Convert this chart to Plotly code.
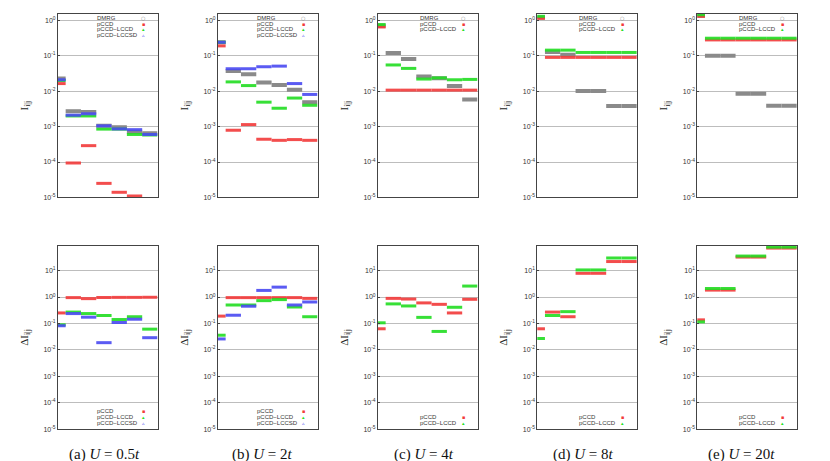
import plotly.graph_objects as go

# orbital-pair index (x) - each value is drawn as a flat step of width 1
pair_idx = [0, 1, 2, 3, 4, 5, 6]

top_tickvals = [1e-5, 1e-4, 1e-3, 1e-2, 1e-1, 1]
top_ticktext = ["10<sup>-5</sup>", "10<sup>-4</sup>", "10<sup>-3</sup>",
                "10<sup>-2</sup>", "10<sup>-1</sup>", "10<sup>0</sup>"]
bot_tickvals = [1e-5, 1e-4, 1e-3, 1e-2, 1e-1, 1, 10]
bot_ticktext = top_ticktext + ["10<sup>1</sup>"]

captions = ["(a) <i>U</i> = 0.5<i>t</i>", "(b) <i>U</i> = 2<i>t</i>",
            "(c) <i>U</i> = 4<i>t</i>", "(d) <i>U</i> = 8<i>t</i>",
            "(e) <i>U</i> = 20<i>t</i>"]

# I_i|j  (top row)
i_dmrg_a = [0.0227, 0.0027, 0.0026, 0.00105, 0.00096, 0.00072, 0.00065]
i_pccd_a = [0.0164, 9.4e-5, 2.9e-4, 2.5e-5, 1.4e-5, 1.1e-5, 7e-6]
i_lccd_a = [0.020, 0.0020, 0.0020, 0.00085, 0.00085, 0.00060, 0.00058]
i_lccsd_a = [0.021, 0.0021, 0.0023, 0.00105, 0.00086, 0.00082, 0.00060]

i_dmrg_b = [0.24, 0.037, 0.030, 0.0175, 0.015, 0.011, 0.0049]
i_pccd_b = [0.19, 0.00079, 0.00114, 0.00044, 0.00041, 0.00043, 0.00041]
i_lccd_b = [0.24, 0.0183, 0.0144, 0.0049, 0.0033, 0.0064, 0.0040]
i_lccsd_b = [0.24, 0.043, 0.043, 0.049, 0.051, 0.0164, 0.0081]

i_dmrg_c = [0.70, 0.119, 0.081, 0.026, 0.023, 0.014, 0.0058]
i_pccd_c = [0.65, 0.0107, 0.0107, 0.0107, 0.0107, 0.0107, 0.0107]
i_lccd_c = [0.76, 0.055, 0.044, 0.022, 0.0237, 0.021, 0.0215]

i_dmrg_d = [1.2, 0.127, 0.107, 0.0102, 0.0102, 0.0038, 0.0038]
i_pccd_d = [1.14, 0.090, 0.090, 0.090, 0.090, 0.090, 0.090]
i_lccd_d = [1.3, 0.144, 0.144, 0.124, 0.124, 0.124, 0.124]

i_dmrg_e = [1.35, 0.10, 0.10, 0.0084, 0.0084, 0.0039, 0.0039]
i_pccd_e = [1.3, 0.28, 0.28, 0.28, 0.28, 0.28, 0.28]
i_lccd_e = [1.44, 0.313, 0.313, 0.313, 0.313, 0.313, 0.313]

# Delta I_i|j  (bottom row)
d_pccd_a = [0.25, 0.95, 0.87, 0.96, 0.97, 0.97, 0.98]
d_lccd_a = [0.089, 0.27, 0.237, 0.20, 0.141, 0.18, 0.061]
d_lccsd_a = [0.082, 0.237, 0.173, 0.0188, 0.109, 0.145, 0.029]

d_pccd_b = [0.19, 0.95, 0.95, 0.95, 0.95, 0.95, 0.89]
d_lccd_b = [0.036, 0.50, 0.50, 0.73, 0.80, 0.42, 0.18]
d_lccsd_b = [0.026, 0.205, 0.45, 1.78, 2.37, 0.50, 0.65]

d_pccd_c = [0.063, 0.89, 0.84, 0.60, 0.53, 0.25, 0.82]
d_lccd_c = [0.106, 0.55, 0.46, 0.17, 0.05, 0.41, 2.6]

d_pccd_d = [0.063, 0.27, 0.18, 7.9, 7.9, 22, 22]
d_lccd_d = [0.027, 0.20, 0.28, 10.6, 10.6, 30, 30]

d_pccd_e = [0.137, 1.83, 1.83, 32.5, 32.5, 71, 71]
d_lccd_e = [0.115, 2.1, 2.1, 35.5, 35.5, 77, 77]

COL = {"DMRG": "#8a8a8a", "pCCD": "#f23a3a", "pCCD\u2212LCCD": "#22dd22",
       "pCCD\u2212LCCSD": "#4a4af2"}
SYM = {"DMRG": "\u25cb", "pCCD": "\u25aa", "pCCD\u2212LCCD": "\u25b4",
       "pCCD\u2212LCCSD": "\u25b5"}
WID = {"DMRG": 4, "pCCD": 3, "pCCD\u2212LCCD": 3, "pCCD\u2212LCCSD": 3}

top_series = [
    [("DMRG", i_dmrg_a), ("pCCD", i_pccd_a), ("pCCD\u2212LCCD", i_lccd_a), ("pCCD\u2212LCCSD", i_lccsd_a)],
    [("DMRG", i_dmrg_b), ("pCCD", i_pccd_b), ("pCCD\u2212LCCD", i_lccd_b), ("pCCD\u2212LCCSD", i_lccsd_b)],
    [("DMRG", i_dmrg_c), ("pCCD", i_pccd_c), ("pCCD\u2212LCCD", i_lccd_c)],
    [("DMRG", i_dmrg_d), ("pCCD", i_pccd_d), ("pCCD\u2212LCCD", i_lccd_d)],
    [("DMRG", i_dmrg_e), ("pCCD", i_pccd_e), ("pCCD\u2212LCCD", i_lccd_e)],
]
bot_series = [
    [("pCCD", d_pccd_a), ("pCCD\u2212LCCD", d_lccd_a), ("pCCD\u2212LCCSD", d_lccsd_a)],
    [("pCCD", d_pccd_b), ("pCCD\u2212LCCD", d_lccd_b), ("pCCD\u2212LCCSD", d_lccsd_b)],
    [("pCCD", d_pccd_c), ("pCCD\u2212LCCD", d_lccd_c)],
    [("pCCD", d_pccd_d), ("pCCD\u2212LCCD", d_lccd_d)],
    [("pCCD", d_pccd_e), ("pCCD\u2212LCCD", d_lccd_e)],
]

W, H = 830, 461
x_left = [50, 210, 370, 529.3, 689.3]
panel_w = 99.5
top_dom = [1 - 190.7 / H, 1 - 6 / H]
bot_dom = [1 - 424 / H, 1 - 239.3 / H]
cap_x = [96, 254, 416, 575, 733]


def steps(vals):
    xs, ys = [], []
    for p, v in zip(pair_idx, vals):
        xs += [p - 0.5, p + 0.5, None]
        ys += [v, v, None]
    return xs, ys


fig = go.Figure()
layout = {}
annots = []
axis_font = dict(family="Liberation Sans, Arial", size=7, color="#333")

for k in range(5):
    xd = [x_left[k] / W, (x_left[k] + panel_w) / W]
    for row, series, dom, rng, tv, tt, title in [
        (0, top_series[k], top_dom, [-5, 0.18], top_tickvals, top_ticktext, "I<sub>i|j</sub>"),
        (1, bot_series[k], bot_dom, [-5, 1.94], bot_tickvals, bot_ticktext, "\u0394I<sub>i|j</sub>"),
    ]:
        n = k + 1 + 5 * row
        sfx = "" if n == 1 else str(n)
        for name, vals in series:
            xs, ys = steps(vals)
            fig.add_trace(go.Scatter(
                x=xs, y=ys, mode="lines", name=name, showlegend=False,
                line=dict(color=COL[name], width=WID[name]),
                opacity=0.9 if name != "DMRG" else 1.0,
                xaxis="x" + sfx, yaxis="y" + sfx,
            ))
        layout["xaxis" + sfx] = dict(
            domain=xd, range=[0, 6.5], anchor="y" + sfx,
            showticklabels=False, ticks="", showgrid=False, zeroline=False,
            showline=True, mirror=True, linecolor="#444", linewidth=1,
        )
        layout["yaxis" + sfx] = dict(
            domain=dom, type="log", range=rng, anchor="x" + sfx,
            tickvals=tv, ticktext=tt, tickfont=axis_font,
            ticks="inside", ticklen=2, tickcolor="#444",
            showgrid=True, gridcolor="#bdbdbd", gridwidth=1, zeroline=False,
            showline=True, mirror=True, linecolor="#444", linewidth=1,
            title=dict(text=title, standoff=12,
                       font=dict(family="Liberation Serif, serif", size=11, color="#222")),
        )
        # in-plot key: label on the left, symbol on the right
        nser = len(series)
        for j, (name, _) in enumerate(series):
            if row == 0:
                yf = 0.978 - j * 0.031
            else:
                yf = 0.035 + (nser - 1 - j) * 0.031
            txf = 0.38 if len(series) == (4 if row == 0 else 3) else 0.41
            annots.append(dict(
                xref="x%s domain" % sfx, yref="y%s domain" % sfx,
                x=txf, y=yf, text=name, showarrow=False, xanchor="left",
                yanchor="middle", borderpad=0,
                font=dict(family="Liberation Sans, Arial", size=6, color="#333"),
            ))
            annots.append(dict(
                xref="x%s domain" % sfx, yref="y%s domain" % sfx,
                x=0.855, y=yf, text=SYM[name], showarrow=False, xanchor="center",
                yanchor="middle", borderpad=0,
                font=dict(family="DejaVu Sans", size=5, color=COL[name]),
            ))
    annots.append(dict(
        xref="paper", yref="paper", x=cap_x[k] / W, y=1 - 449 / H,
        text=captions[k], showarrow=False, xanchor="center", yanchor="middle",
        borderpad=0,
        font=dict(family="Liberation Serif, serif", size=15, color="#111"),
    ))

fig.update_layout(
    width=W, height=H, margin=dict(l=0, r=0, t=0, b=0),
    paper_bgcolor="white", plot_bgcolor="white",
    showlegend=False, annotations=annots, **layout,
)

fig.write_html("out.html")
